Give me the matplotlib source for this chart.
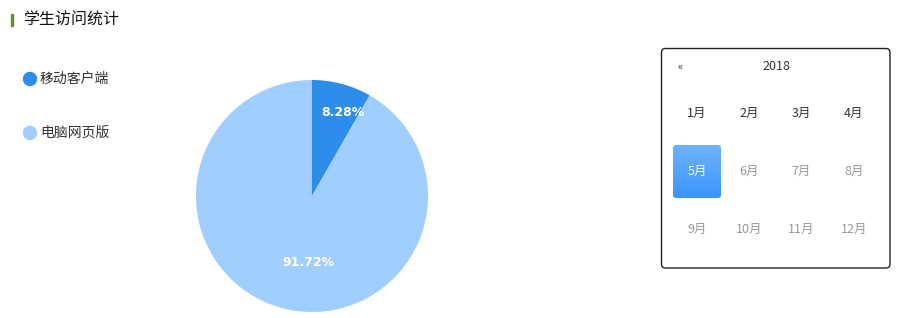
import matplotlib.pyplot as plt
import numpy as np
from matplotlib.patches import FancyBboxPatch, Rectangle, Circle

plt.rcParams['font.family'] = ['Noto Sans CJK SC', 'DejaVu Sans']

# data
title = "学生访问统计"
categories = ["移动客户端", "电脑网页版"]
shares = [8.28, 91.72]
colors = ["#2E8CEB", "#A0CFFF"]
year = "2018"
months = [f"{m}月" for m in range(1, 13)]
selected_month = 5

W, H = 906, 318
fig = plt.figure(figsize=(W / 100, H / 100), dpi=100)

# overlay axes in pixel coordinates (y downwards)
ov = fig.add_axes([0, 0, 1, 1])
ov.set_xlim(0, W)
ov.set_ylim(H, 0)
ov.axis("off")

# title with green mark
ov.add_patch(Rectangle((11, 14), 1.6, 12, color="#6B8E23"))
ov.text(23, 20, title, fontsize=11.5, va="center", ha="left", color="#111111")

# legend
for i, (name, c) in enumerate(zip(categories, colors)):
    y = 79 + i * 54
    ov.add_patch(Circle((30, y), 6.5, color=c))
    ov.text(40, y, name, fontsize=10, va="center", ha="left", color="#333333")

# pie
cx, cy, r = 312, 196, 116
pax = fig.add_axes([(cx - r) / W, (H - cy - r) / H, 2 * r / W, 2 * r / H])
wedges, _ = pax.pie(shares, colors=colors, startangle=90, counterclock=False,
                    radius=1, wedgeprops=dict(linewidth=0))
pax.set_xlim(-1, 1)
pax.set_ylim(-1, 1)
pax.set_aspect("equal")
pax.axis("off")
label_dist = [0.77, 0.57]
for w, s, d in zip(wedges, shares, label_dist):
    ang = np.deg2rad((w.theta1 + w.theta2) / 2)
    pax.annotate(f"{s:.2f}%", (d * np.cos(ang), d * np.sin(ang)),
                 xytext=(6 if s < 50 else 10, -2), textcoords="offset points",
                 color="white", fontsize=9, fontweight="semibold",
                 ha="center", va="center", family=["DejaVu Sans"])

# calendar box
ov.add_patch(FancyBboxPatch((661.5, 48.5), 228.5, 219.5,
                            boxstyle="round,pad=0,rounding_size=4",
                            fill=False, edgecolor="#222222", linewidth=1))
ov.text(680, 67, "«", fontsize=8, ha="center", va="center", color="#333333")
ov.text(776, 67, year, fontsize=9, ha="center", va="center", color="#333333")

col_x = [697, 749, 801, 854]
row_y = [113, 171, 229]
for i, m in enumerate(months):
    x = col_x[i % 4]
    y = row_y[i // 4]
    if i + 1 == selected_month:
        box = FancyBboxPatch((673, 145), 48, 53,
                             boxstyle="round,pad=0,rounding_size=3",
                             facecolor="none", edgecolor="none")
        ov.add_patch(box)
        grad = np.linspace(0, 1, 100).reshape(-1, 1)
        top = np.array([0x6E, 0xB3, 0xFA]) / 255
        bot = np.array([0x3A, 0x95, 0xF9]) / 255
        img = top + (bot - top) * grad[:, :, None]
        im = ov.imshow(img, extent=(673, 721, 198, 145), aspect="auto",
                       interpolation="bilinear", zorder=1)
        im.set_clip_path(box)
        col = "white"
    elif i + 1 < selected_month:
        col = "#333333"
    else:
        col = "#999999"
    ov.text(x, y, m, fontsize=9, ha="center", va="center", color=col, zorder=2)

ov.set_xlim(0, W)
ov.set_ylim(H, 0)
fig.savefig("out.png", dpi=100)
